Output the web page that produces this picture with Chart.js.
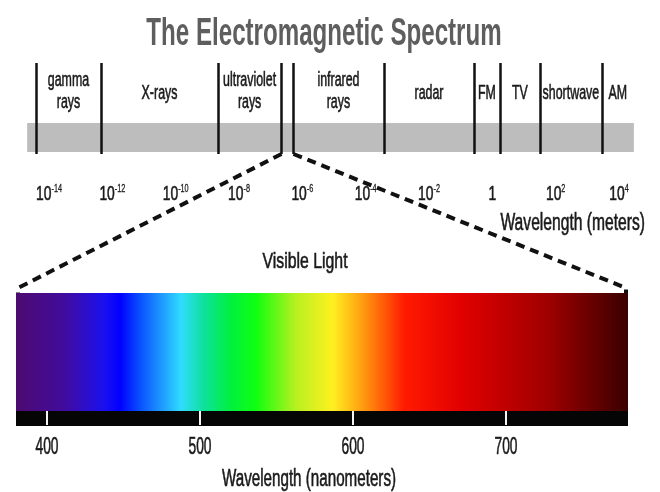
<!DOCTYPE html>
<html>
<head>
<meta charset="utf-8">
<title>The Electromagnetic Spectrum</title>
<script src="https://cdn.jsdelivr.net/npm/chart.js@4.4.0/dist/chart.umd.min.js"></script>
<style>
  html, body { margin: 0; padding: 0; background: #fff; }
  #wrap { width: 660px; height: 492px; }
</style>
</head>
<body>
<div id="wrap"><canvas id="emChart" width="660" height="492"></canvas></div>
<script>
// --- data ---
// top band: wavelength as log10(meters)
const bandRange = [-14.69, 4.47];
const regionEdges = [-14.41, -12.36, -8.66, -6.67, -6.30, -3.42, -0.58, 0.24, 1.50, 3.46, 4.47];
const regionNames = [['gamma', 'rays'], ['X-rays'], ['ultraviolet', 'rays'], [], ['infrared', 'rays'],
  ['radar'], ['FM'], ['TV'], ['shortwave'], ['AM']];
const meterTicks = [-14, -12, -10, -8, -6, -4, -2, 0, 2, 4];

// visible light: nanometers
const visibleRange = [380, 780];
const nmTicks = [400, 500, 600, 700];
const spectrumStops = [380, 411, 438, 448, 461, 488, 502, 520, 537, 563, 587, 607, 634, 672, 727, 780];
const spectrumColors = ['#4c0a70', '#420c9c', '#1a10f0', '#0000ff', '#0a50ff', '#30dcff', '#10e0a0', '#00f040',
  '#10ff10', '#b8f020', '#fff020', '#ff9a10', '#ff1a00', '#e00000', '#a00000', '#3a0000'];

// --- layout ---
const W = 660;
const rows = {
  title: 45, label1: 86, label2: 108, labelMid: 99,
  lineTop: 63, bandTop: 123, bandBottom: 152,
  tick: 200, tickExp: 192, meterTitle: 230, visTitle: 268,
  specTop: 293, specBottom: 411, blackBottom: 426,
  nmTick: 454, nmTitle: 486
};

// min/max so that two values land on two given pixels of a full-width area
const spanFor = (v0, p0, v1, p1) => {
  const k = (v1 - v0) / (p1 - p0);
  return { min: v0 - p0 * k, max: v0 + (W - p0) * k };
};
const meterSpan = spanFor(-14, 49, 4, 619);
const nmSpan = spanFor(380, 16, 780, 628);

const FONT = '"Liberation Sans", Arial, sans-serif';

// narrow text: the picture's type is condensed and a little heavy
const narrowText = (ctx, str, x, y, size, opts = {}) => {
  ctx.save();
  ctx.font = `${opts.bold ? 'bold ' : ''}${size}px ${FONT}`;
  ctx.fillStyle = opts.color || '#1a1a1a';
  ctx.strokeStyle = opts.color || '#1a1a1a';
  ctx.lineWidth = opts.heavy === undefined ? 0.6 : opts.heavy;
  ctx.textAlign = opts.align || 'center';
  ctx.textBaseline = 'alphabetic';
  ctx.translate(x, y);
  ctx.scale(opts.sx || 0.65, 1);
  ctx.fillText(str, 0, 0);
  if (ctx.lineWidth > 0 && !opts.bold) ctx.strokeText(str, 0, 0);
  ctx.restore();
};

const spectrumPlugin = {
  id: 'emSpectrum',
  afterDraw(chart) {
    const { ctx } = chart;
    const xm = chart.scales.xm;
    const xnm = chart.scales.xnm;
    const pm = (v) => xm.getPixelForValue(v);
    const pn = (v) => xnm.getPixelForValue(v);
    const x0 = pn(visibleRange[0]);
    const x1 = pn(visibleRange[1]);

    // gray band
    ctx.fillStyle = '#bdbdbd';
    ctx.fillRect(pm(bandRange[0]), rows.bandTop, pm(bandRange[1]) - pm(bandRange[0]), rows.bandBottom - rows.bandTop);

    // region edges
    ctx.strokeStyle = '#111';
    ctx.lineWidth = 2.5;
    regionEdges.slice(0, -1).forEach((e) => {
      const x = Math.round(pm(e)) + 0.5;
      ctx.beginPath();
      ctx.moveTo(x, rows.lineTop);
      ctx.lineTo(x, rows.bandBottom + 2);
      ctx.stroke();
    });

    // dashed zoom lines from the visible gap down to the spectrum bar
    ctx.save();
    ctx.strokeStyle = '#111';
    ctx.lineWidth = 4;
    ctx.setLineDash([9, 6]);
    [[regionEdges[3], x0 + 2], [regionEdges[4], x1 - 2]].forEach(([e, xb]) => {
      const xt = Math.round(pm(e)) + 0.5;
      ctx.beginPath();
      ctx.moveTo(xt, rows.bandBottom + 2);
      ctx.lineTo(xb, rows.specTop - 5);
      ctx.lineTo(xb, rows.specTop);
      ctx.stroke();
    });
    ctx.restore();

    // spectrum bar
    const grad = ctx.createLinearGradient(x0, 0, x1, 0);
    spectrumStops.forEach((nm, i) => {
      grad.addColorStop((nm - visibleRange[0]) / (visibleRange[1] - visibleRange[0]), spectrumColors[i]);
    });
    ctx.fillStyle = grad;
    ctx.fillRect(x0, rows.specTop, x1 - x0, rows.specBottom - rows.specTop);

    // black axis strip with white ticks
    ctx.fillStyle = '#050505';
    ctx.fillRect(x0, rows.specBottom, x1 - x0, rows.blackBottom - rows.specBottom);
    ctx.strokeStyle = '#f4f4f4';
    ctx.lineWidth = 2;
    nmTicks.forEach((nm) => {
      const x = Math.round(pn(nm));
      ctx.beginPath();
      ctx.moveTo(x, rows.specBottom);
      ctx.lineTo(x, rows.blackBottom - 1);
      ctx.stroke();
    });

    // --- text on top ---
    narrowText(ctx, 'The Electromagnetic Spectrum', W / 2 - 6, rows.title, 38, { bold: true, color: '#5e5e5e', sx: 0.635 });

    regionNames.forEach((lines, i) => {
      const cx = (pm(regionEdges[i]) + pm(regionEdges[i + 1])) / 2;
      if (lines.length === 2) {
        narrowText(ctx, lines[0], cx, rows.label1, 20, { sx: 0.62 });
        narrowText(ctx, lines[1], cx, rows.label2, 20, { sx: 0.62 });
      } else if (lines.length === 1) {
        narrowText(ctx, lines[0], cx, rows.labelMid, 20, { sx: 0.62 });
      }
    });

    // meter ticks: 10 with a small exponent
    meterTicks.forEach((e) => {
      const x = pm(e);
      const sx = 0.66;
      if (e === 0) {
        narrowText(ctx, '1', x, rows.tick, 21, { sx });
      } else {
        const exp = e < 0 ? '-' + Math.abs(e) : String(e);
        ctx.save();
        ctx.font = `21px ${FONT}`;
        const wBase = ctx.measureText('10').width * sx;
        ctx.font = `11px ${FONT}`;
        const wExp = ctx.measureText(exp).width * sx;
        ctx.restore();
        const left = x - (wBase + wExp) / 2;
        narrowText(ctx, '10', left, rows.tick, 21, { sx, align: 'left' });
        narrowText(ctx, exp, left + wBase, rows.tickExp, 11, { sx, align: 'left', heavy: 0.3 });
      }
    });
    narrowText(ctx, 'Wavelength (meters)', 645, rows.meterTitle, 23, { sx: 0.68, align: 'right' });
    narrowText(ctx, 'Visible Light', 305, rows.visTitle, 22, { sx: 0.72 });

    nmTicks.forEach((nm) => {
      narrowText(ctx, String(nm), Math.round(pn(nm)), rows.nmTick, 23, { sx: 0.6 });
    });
    narrowText(ctx, 'Wavelength (nanometers)', 309, rows.nmTitle, 23, { sx: 0.66 });
  }
};

new Chart(document.getElementById('emChart'), {
  type: 'scatter',
  data: { datasets: [] },
  options: {
    responsive: false,
    animation: false,
    layout: { padding: 0 },
    plugins: {
      legend: { display: false },
      tooltip: { enabled: false },
      title: { display: false }
    },
    scales: {
      xm: { type: 'linear', axis: 'x', position: 'top', display: false, min: meterSpan.min, max: meterSpan.max },
      xnm: { type: 'linear', axis: 'x', position: 'bottom', display: false, min: nmSpan.min, max: nmSpan.max },
      y: { type: 'linear', display: false, min: 0, max: 1 }
    }
  },
  plugins: [spectrumPlugin]
});
</script>
</body>
</html>
